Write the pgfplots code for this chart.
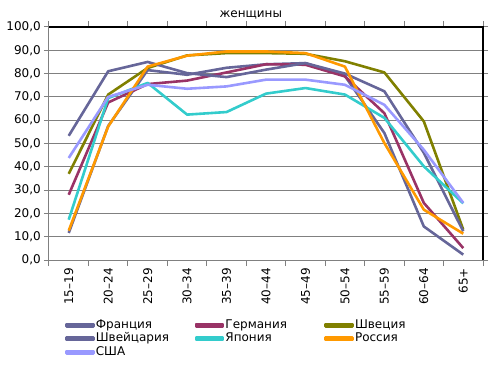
\documentclass[border=0pt]{standalone}
\usepackage{fontspec}
\setmainfont{DejaVu Sans}
\usepackage{pgfplots}
\pgfplotsset{compat=1.18}
\definecolor{cFr}{HTML}{666699}
\definecolor{cDe}{HTML}{993366}
\definecolor{cSe}{HTML}{808000}
\definecolor{cCh}{HTML}{666699}
\definecolor{cJp}{HTML}{33CCCC}
\definecolor{cRu}{HTML}{FF9900}
\definecolor{cUs}{HTML}{9999FF}
\definecolor{gridgray}{HTML}{808080}
\newcommand\f{\fontsize{12bp}{14bp}\selectfont}
\newcommand\legtxt[1]{\makebox[98bp][l]{#1}}
\begin{document}
\begin{tikzpicture}
\begin{axis}[
  at={(0,0)}, anchor=south west,
  scale only axis, width=434bp, height=233bp,
  xmin=-0.5, xmax=10.5, ymin=0, ymax=100,
  xtick={0,...,10},
  xticklabels={15–19,20–24,25–29,30–34,35–39,40–44,45–49,50–54,55–59,60–64,65+},
  x tick label style={rotate=90, anchor=east, font=\f, inner sep=1bp},
  major x tick style={draw=none},
  minor xtick={-0.5,0.5,...,10.5},
  minor x tick style={gridgray, line width=1bp},
  minor tick length=6bp,
  ytick={0,10,...,100},
  y tick style={gridgray, line width=1bp},
  major tick length=5bp,
  tick align=outside,
  ymajorgrids, grid style={gridgray, line width=1bp},
  y tick label style={font=\f, inner sep=1bp},
  yticklabel style={/pgf/number format/.cd, fixed, fixed zerofill, precision=1, use comma, assume math mode=true},
  xticklabel shift=2bp, yticklabel shift=2bp,
  axis line style={draw=none},
  title={\f женщины}, title style={at={(0.465,1)}, anchor=base, yshift=4bp},
  legend columns=3,
  legend style={at={(0.037,-0.25)}, anchor=north west, draw=none, inner sep=0pt,
    font=\f, nodes={inner sep=1bp, text height=9bp, text depth=2.5bp}},
  legend cell align=left,
  legend image code/.code={\fill[#1] (0bp,-1.4bp) rectangle (27bp,1.4bp);},
  every axis plot/.append style={line width=2.6bp, line join=round},
  clip=false,
]
\addplot[cFr] coordinates {(0,11.6)(1,57.5)(2,81.5)(3,79.5)(4,82.5)(5,84)(6,84.5)(7,79)(8,54.5)(9,14.4)(10,2.3)};
\addlegendentry{\legtxt{Франция}}
\addplot[cDe] coordinates {(0,28)(1,67.6)(2,75.5)(3,77)(4,80.5)(5,84)(6,83.8)(7,78.8)(8,63)(9,24.5)(10,5.1)};
\addlegendentry{\legtxt{Германия}}
\addplot[cSe] coordinates {(0,37)(1,71)(2,82.4)(3,87.8)(4,88.8)(5,88.8)(6,88.5)(7,85.3)(8,80.5)(9,59.5)(10,13)};
\addlegendentry{\legtxt{Швеция}}
\addplot[cCh] coordinates {(0,53.3)(1,81)(2,85)(3,80.2)(4,78.5)(5,81.7)(6,84.5)(7,80)(8,72.4)(9,46)(10,12.3)};
\addlegendentry{\legtxt{Швейцария}}
\addplot[cJp] coordinates {(0,17.3)(1,69.5)(2,76)(3,62.4)(4,63.5)(5,71.4)(6,73.8)(7,71)(8,61)(9,40.2)(10,24.3)};
\addlegendentry{\legtxt{Япония}}
\addplot[cRu] coordinates {(0,12.6)(1,57.3)(2,83)(3,87.7)(4,89.5)(5,89.5)(6,88.8)(7,83)(8,50.2)(9,21.6)(10,11.3)};
\addlegendentry{\legtxt{Россия}}
\addplot[cUs] coordinates {(0,43.8)(1,70)(2,75.2)(3,73.5)(4,74.5)(5,77.4)(6,77.4)(7,75.2)(8,66.6)(9,47.3)(10,24.5)};
\addlegendentry{\legtxt{США}}
\draw[gridgray, line width=1bp] (rel axis cs:0,1) -- (rel axis cs:0,0) -- (rel axis cs:1,0);
\draw[black, line width=1.2bp] (rel axis cs:0,1) -- (rel axis cs:1,1) -- (rel axis cs:1,0);
\end{axis}
\pgfresetboundingbox
\path[use as bounding box] (-49bp,-105bp) rectangle (444bp,260bp);
\end{tikzpicture}
\end{document}
